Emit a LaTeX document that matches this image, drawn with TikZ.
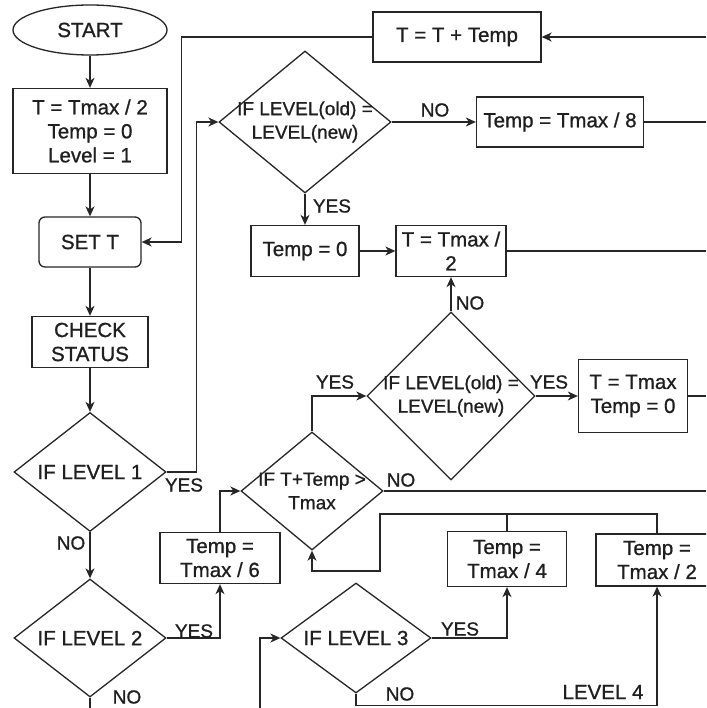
\documentclass[tikz,border=0pt]{standalone}
\usepackage{fontspec}
\setmainfont{Liberation Sans}[FakeBold=0.9]
\usetikzlibrary{shapes.geometric,arrows.meta}
\begin{document}
\begin{tikzpicture}[x=1pt,y=-1pt,
  every node/.style={font=\fontsize{20.5}{24}\selectfont, text=black!88},
  small/.style={font=\fontsize{19}{23.5}\selectfont},
  bx/.style 2 args={draw, rectangle, inner sep=0pt, align=center, minimum width=#1pt, minimum height=#2pt},
  dm/.style 2 args={draw, diamond, inner sep=0pt, minimum width=#1pt, minimum height=#2pt},
  lbl/.style={inner sep=0pt, small},
  ln/.style={line width=1.3pt, draw=black!85},
  arr/.style={ln, -{Stealth[length=10pt,width=9pt,inset=3pt]}},
  line width=1.3pt, draw=black!85
]
\clip (0,0) rectangle (706,708);
\fill[white] (0,0) rectangle (706,708);

% left column
\node[draw, ellipse, inner sep=0pt, minimum width=154pt, minimum height=50pt] (start) at (90,30) {START};
\node[bx={154}{85}] (init) at (90,131) {T = Tmax / 2\\Temp = 0\\Level = 1};
\node[bx={102}{50}, rounded corners=6pt] (sett) at (90,242) {SET T};
\node[bx={116}{51}] (check) at (90,342) {CHECK\\STATUS};
\node[dm={152}{119}, label={[align=center]center:IF LEVEL 1}] (lvl1) at (90,472) {};
\node[dm={152}{118}, label={[align=center]center:IF LEVEL 2}] (lvl2) at (90,638) {};

% upper right
\node[bx={168}{50}] (tt) at (457,37) {T = T + Temp};
\node[dm={172}{142}, label={[align=center, small]center:IF LEVEL(old) =\\LEVEL(new)}] (d1) at (305,122) {};
\node[bx={167}{50}] (t8) at (560,122) {Temp = Tmax / 8};
\node[bx={108}{51}] (t0) at (305,251) {Temp = 0};
\node[bx={110}{51}] (th) at (451,251) {T = Tmax /\\2};
\node[dm={168}{168}, label={[align=center, small]center:IF LEVEL(old) =\\LEVEL(new)}] (d2) at (451,396) {};
\node[bx={109}{73}] (tm) at (633,396) {T = Tmax\\Temp = 0};
\node[dm={142}{118}, label={[align=center, small]center:IF T+Temp >\\Tmax}] (d3) at (312,491) {};
\node[bx={120}{51}] (t6) at (220,558) {Temp =\\Tmax / 6};
\node[bx={119}{55}] (t4) at (507,559) {Temp =\\Tmax / 4};
\node[bx={122}{52}] (t2) at (657,560) {Temp =\\Tmax / 2};
\node[dm={150}{110}, label={[align=center]center:IF LEVEL 3}] (lvl3) at (356,638) {};

% free ends
\coordinate (e1) at (706,37);
\coordinate (e2) at (706,122);
\coordinate (e3) at (706,251);
\coordinate (e4) at (706,396);
\coordinate (e5) at (706,491);
\coordinate (b1) at (90,708);
\coordinate (b2) at (260,708);
\coordinate (m1) at (380,514);
\coordinate (m2) at (380,571);

% connectors
\draw[arr] (start) -- (init);
\draw[arr] (init) -- (sett);
\draw[arr] (sett) -- (check);
\draw[arr] (check) -- (lvl1);
\draw[arr] (lvl1.east) -- ++(30,0) |- (d1.west);
\draw[arr] (tt.west) -- ++(-191,0) |- (sett.east);
\draw[arr] (e1) -- (tt.east);
\draw[arr] (d1.east) -- (t8.west);
\draw[ln] (t8.east) -- (e2);
\draw[arr] (d1.south) -- (t0.north);
\draw[arr] (t0.east) -- (th.west);
\draw[ln] (th.east) -- (e3);
\draw[arr] (d2.north) -- (th.south);
\draw[arr] (d2.east) -- (tm.west);
\draw[ln] (tm.east) -- (e4);
\draw[arr] (d3.north) |- (d2.west);
\draw[ln] (d3.east) -- (e5);
\draw[arr] (t6.north) |- (d3.west);
\draw[arr] (lvl2.east) -| (t6.south);
\draw[arr] (lvl1.south) -- (lvl2.north);
\draw[ln] (lvl2.south) -- (b1);
\draw[arr] (b2) |- (lvl3.west);
\draw[arr] (lvl3.east) -| (t4.south);
\draw[arr] (lvl3.south) -- ++(0,12) -| (t2.south);
\draw[ln] (t4.north) -- (t4.north |- m1);
\draw[arr] (t2.north) |- (m1) -- (m2) -| (d3.south);

% labels
\node[lbl] (y1) at (184,485) {YES};
\node[lbl] (n1) at (71,543) {NO};
\node[lbl] (y2) at (194,631) {YES};
\node[lbl] (n2) at (127,697) {NO};
\node[lbl] (y3) at (332,206) {YES};
\node[lbl] (n3) at (435,110) {NO};
\node[lbl] (n4) at (470,303) {NO};
\node[lbl] (y4) at (549,382) {YES};
\node[lbl] (y5) at (335,382) {YES};
\node[lbl] (n5) at (401,480) {NO};
\node[lbl] (y6) at (460,629) {YES};
\node[lbl] (n6) at (400,694) {NO};
\node[lbl, font=\fontsize{20.5}{24}\selectfont] (l4) at (603,692) {LEVEL 4};
\end{tikzpicture}
\end{document}
